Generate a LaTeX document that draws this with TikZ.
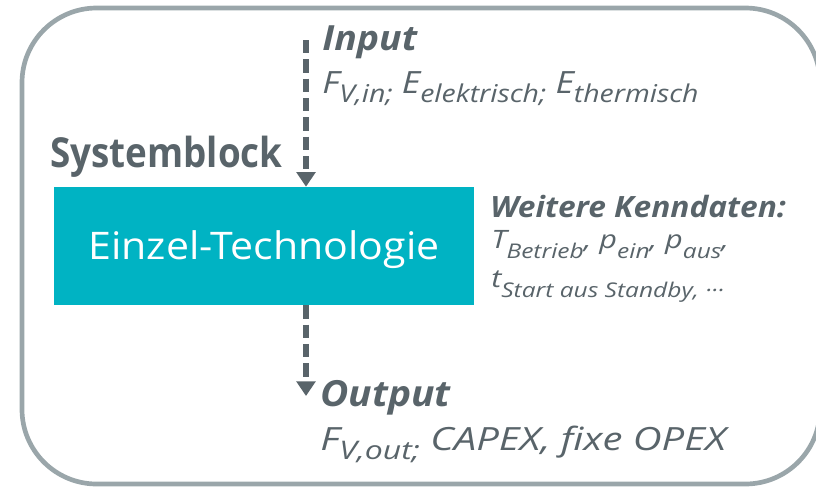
\documentclass[tikz,border=0pt]{standalone}
\usepackage{fontspec}
\setmainfont{Open Sans}
\newfontfamily\fsN{Open Sans}[FakeStretch=0.89]
\newfontfamily\fsA{Open Sans}[FakeStretch=1.08]
\newfontfamily\fsB{Open Sans}[FakeStretch=1.16]
\newfontfamily\fsC{Open Sans}[FakeStretch=1.21]
\newfontfamily\fsD{Open Sans}[FakeStretch=1.25]
\usepackage{graphicx}
\usetikzlibrary{arrows.meta}
\definecolor{txtgray}{HTML}{59646A}
\definecolor{bordergray}{HTML}{9AA6AA}
\definecolor{tealc}{HTML}{00B3C3}
\newcommand{\sbx}[1]{\raisebox{-0.3em}{\scalebox{0.8}{#1}}}
\newcommand{\sbl}[1]{\raisebox{-0.42em}{\scalebox{0.8}{#1}}}
\newcommand{\fsz}[1]{\fontsize{#1}{#1}\selectfont}
\begin{document}
\begin{tikzpicture}[x=0.75pt,y=-0.75pt,
  lbl/.style={anchor=base west, inner sep=0pt, text=txtgray},
  flow/.style={draw=txtgray, line width=4.5pt, dash pattern=on 10pt off 4.5pt,
    -{Triangle[length=11pt,width=14pt]}}]
\useasboundingbox (0,0) rectangle (816,486);
\draw[draw=bordergray, line width=3.5pt, rounded corners=56pt] (22,8) rectangle (820,484);
\node[fill=tealc, minimum width=315pt, minimum height=88.5pt, inner sep=0pt,
  text=white, text height=20pt, text depth=0pt, font=\fsA\fsz{28.5}] (tech) at (264,246) {Einzel-Technologie};
\node[lbl, font=\fsN\fsz{31}\bfseries] (sys) at (50,167) {Systemblock};
\node[lbl, font=\fsA\fsz{26}\bfseries\itshape] (inT) at (322,50) {Input};
\node[lbl, font=\fsB\fsz{23}\itshape] (inL) at (322,93) {F\sbx{V,in;} E\sbx{elektrisch;} E\sbx{thermisch}};
\node[lbl, font=\fsA\fsz{22}\bfseries\itshape] (wk) at (490,217) {Weitere Kenndaten:};
\node[lbl, font=\fsC\fsz{19}\itshape] (kd1) at (491,248) {T\sbl{Betrieb}, p\sbl{ein}, p\sbl{aus},};
\node[lbl, font=\fsC\fsz{19}\itshape] (kd2) at (491,287) {t\sbl{Start aus Standby, ···}};
\node[lbl, font=\fsA\fsz{27}\bfseries\itshape] (outT) at (320,406) {Output};
\node[lbl, font=\fsD\fsz{24}\itshape] (outL) at (320,450) {F\sbx{V,out;} CAPEX, fixe OPEX};
\coordinate (inS) at (306,40);
\coordinate (outE) at (306,396);
\draw[flow] (inS) -- (inS |- tech.north);
\draw[flow] (outE |- tech.south) -- (outE);
\end{tikzpicture}
\end{document}
